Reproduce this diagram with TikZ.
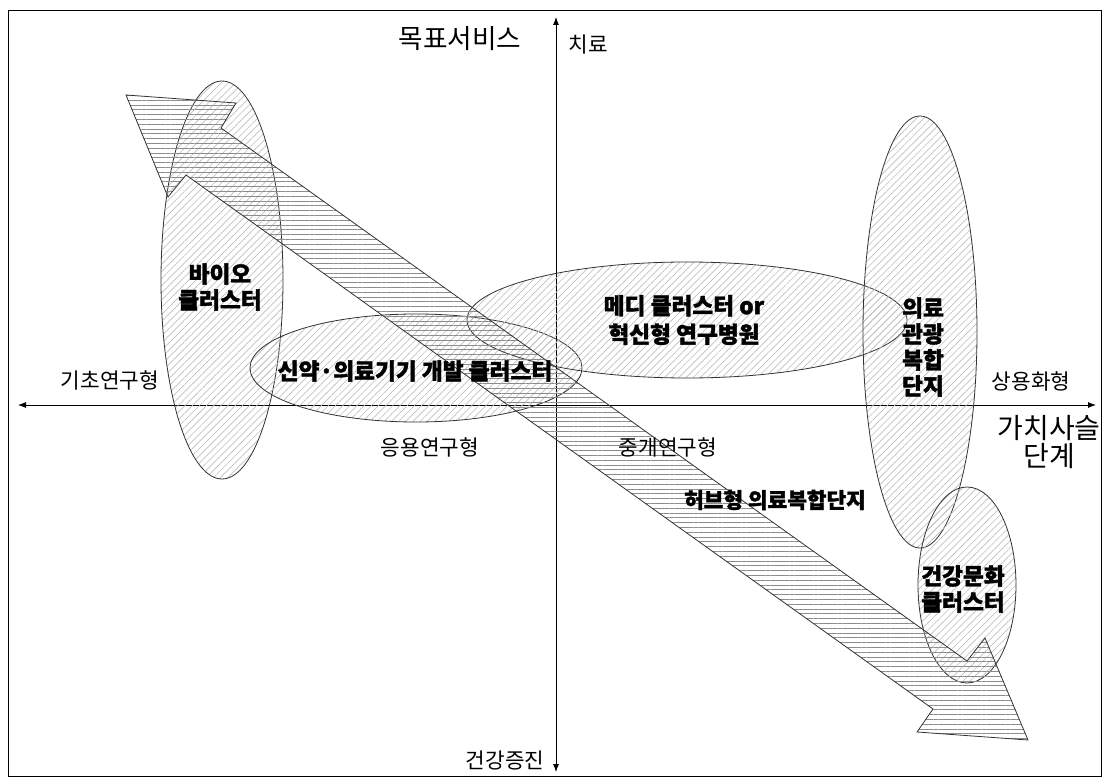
\documentclass[tikz,border=0pt]{standalone}
\usepackage{fontspec}
\newfontfamily\kr{Noto Sans CJK KR}[BoldFeatures={FakeBold=1.6}]
\usetikzlibrary{arrows.meta,patterns.meta}
\begin{document}
\begin{tikzpicture}[x=0.75pt,y=-0.75pt,
  outl/.style={draw=black!80,line width=0.6pt},
  ell/.style={outl,pattern={Lines[angle=45,distance=3.8pt,line width=0.5pt]},pattern color=black!25},
  arr/.style={outl,pattern={Lines[angle=0,distance=3.6pt,line width=0.5pt]},pattern color=black!45},
  lab/.style={font=\kr\fontsize{16}{18}\selectfont,inner sep=0pt},
  big/.style={font=\kr\fontsize{20}{20}\selectfont,inner sep=0pt,align=center},
  blab/.style={font=\kr\bfseries\fontsize{17}{19.5}\selectfont,inner sep=0pt,align=center},
  axis/.style={line width=0.6pt,{Latex[length=6pt,width=4.5pt]}-{Latex[length=6pt,width=4.5pt]}}
]
\useasboundingbox (0,0) rectangle (1108,777);
\draw[line width=0.6pt] (8,10) rectangle (1101,776);

% axes
\coordinate (xl) at (18,405);
\coordinate (xr) at (1096,405);
\coordinate (yt) at (556,17);
\coordinate (yb) at (556,772);
\draw[axis] (xl) -- (xr);
\draw[axis] (yb) -- (yt);

% ellipses
\draw[ell] (222,280) ellipse [x radius=61, y radius=199];
\draw[ell] (416,368) ellipse [x radius=166, y radius=54];
\draw[ell] (687,320) ellipse [x radius=220, y radius=58];
\draw[ell] (920,332) ellipse [x radius=57, y radius=216];
\draw[ell] (967,585) ellipse [x radius=49, y radius=98];

% double arrow
\draw[arr] (126,95) -- (236,103) -- (221,128) -- (967,661) -- (985,638)
  -- (1028,740) -- (917,732) -- (933,709) -- (186,175) -- (168,197) -- cycle;

% labels
\node[big] (t1) at (460,39) {목표서비스};
\node[lab] (t2) at (588,45) {치료};
\node[lab] (t3) at (110,380) {기초연구형};
\node[lab] (t4) at (1031,381) {상용화형};
\node[lab] (t5) at (430,447) {응용연구형};
\node[lab] (t6) at (668,447) {중개연구형};
\node[big,font=\kr\fontsize{21}{20.5}\selectfont] (t7) at (1049,442) {가치사슬\\단계};
\node[lab] (t8) at (505,760) {건강증진};

\node[blab] (b1) at (220,287) {바이오\\클러스터};
\node[blab] (b2) at (415,371) {신약·의료기기 개발 클러스터};
\node[blab,font=\kr\bfseries\fontsize{17}{21.5}\selectfont] (b3) at (684,320) {메디 클러스터 or\\혁신형 연구병원};
\node[blab] (b4) at (923,347) {의료\\관광\\복합\\단지};
\node[blab] (b5) at (963,589) {건강문화\\클러스터};
\node[blab,font=\kr\bfseries\fontsize{16}{19.5}\selectfont] (b6) at (775,500) {허브형 의료복합단지};
\end{tikzpicture}
\end{document}
